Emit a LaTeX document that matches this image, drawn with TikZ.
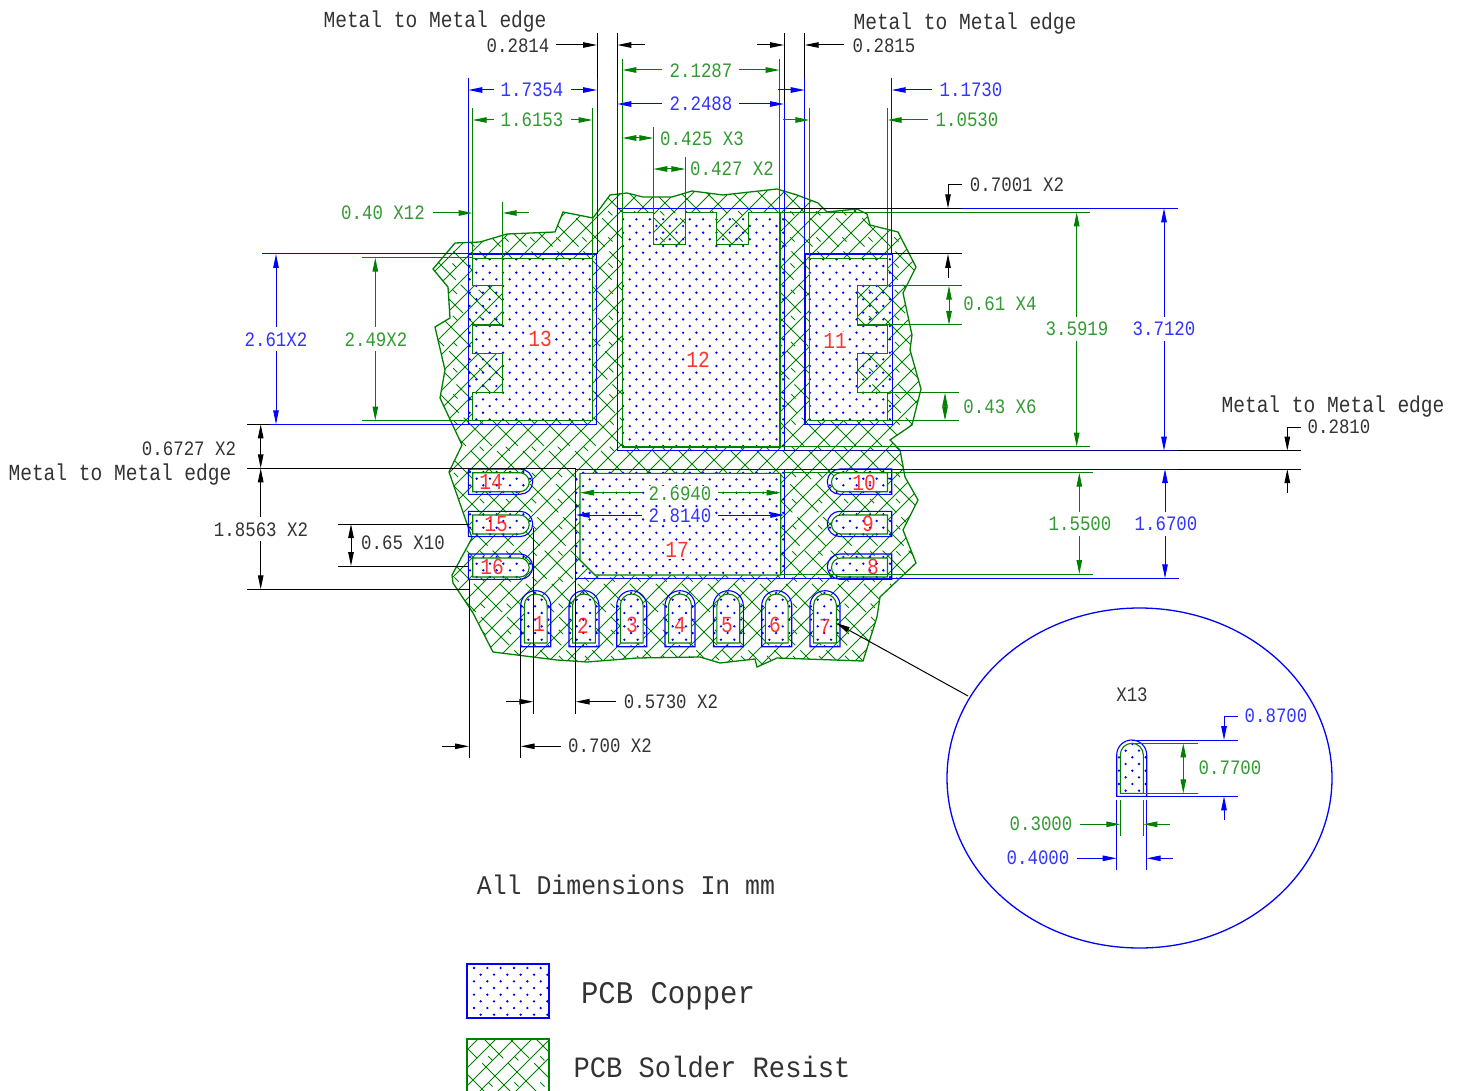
\documentclass[tikz,border=0pt]{standalone}
\usepackage{fontspec}
\usepackage{xcolor}
\usepackage{tikz}
\usetikzlibrary{arrows.meta}

\newfontfamily\dimfont[FakeStretch=.85]{Liberation Mono}
\newfontfamily\legendfont[FakeStretch=.92]{Liberation Mono}

\definecolor{copperblue}{RGB}{0,0,255}
\definecolor{resistgreen}{RGB}{0,128,0}
\definecolor{padred}{RGB}{255,0,0}

\tikzset{
  dimtext/.style={font=\dimfont\fontsize{20.5}{24}\selectfont,inner sep=0pt,text opacity=.8},
  edgetext/.style={font=\dimfont\fontsize{23}{26}\selectfont,inner sep=0pt,text opacity=.8},
  padtext/.style={font=\dimfont\fontsize{23}{26}\selectfont,inner sep=0pt,text=padred,text opacity=.8},
  bigpadtext/.style={padtext,fill=white,inner sep=1pt},
  bigtext/.style={font=\legendfont\fontsize{27}{30}\selectfont,inner sep=0pt,text opacity=.8},
  legendtext/.style={font=\legendfont\fontsize{29.5}{34}\selectfont,inner sep=0pt,text opacity=.8},
  legendwide/.style={font=\legendfont\fontsize{31.5}{34}\selectfont,inner sep=0pt,text opacity=.8},
  dim/.style={-{Triangle[length=14pt,width=5.5pt]},line width=1pt},
  dimboth/.style={{Triangle[length=14pt,width=5.5pt]}-{Triangle[length=14pt,width=5.5pt]},line width=1pt},
  ext/.style={line width=1pt},
  copperline/.style={draw=copperblue,line width=1.1pt},
  maskline/.style={draw=resistgreen,line width=1.1pt},
  hatchline/.style={resistgreen,line width=.9pt},
}

% pad with round top, round right end, round left end
\newcommand{\toppad}[4]{(#1,{#2+#4}) -- (#1,{#2+#3/2}) arc[start angle=180,end angle=360,radius={#3/2}] -- ({#1+#3},{#2+#4}) -- cycle}
\newcommand{\rightpad}[4]{(#1,#2) -- ({#1+#3-#4/2},#2) arc[start angle=-90,end angle=90,radius={#4/2}] -- (#1,{#2+#4}) -- cycle}
\newcommand{\leftpad}[4]{({#1+#3},#2) -- ({#1+#4/2},#2) arc[start angle=-90,end angle=-270,radius={#4/2}] -- ({#1+#3},{#2+#4}) -- cycle}

\newcommand{\copperdots}[4]{%
  \foreach \i in {0,...,#3} \foreach \j in {0,...,#4} {
    \fill[copperblue] ({#1+13.34*\i+6.67*mod(\j,2)},{#2+6.67*\j}) circle (1.3);
  }}
\newcommand{\resisthatch}[4]{%
  \foreach \k in {0,...,#3} {
    \draw[hatchline] ({#1+18*\k-(#4-#2)},#4) -- ({#1+18*\k},#2);
    \draw[hatchline,dash pattern=on 40pt off 7pt] ({#1+26*\k},#2) -- ({#1+26*\k+(#4-#2)},#4);
    \draw[hatchline,dash pattern=on 6pt off 31pt] ({#1+13+26*\k},#2) -- ({#1+13+26*\k+(#4-#2)},#4);
  }}

\begin{document}
\begin{tikzpicture}[x=1pt,y=-1pt]
\useasboundingbox (0,0) rectangle (1462,1091);

% solder resist
\begin{scope}
\clip (433,269) -- (455,243) -- (480,242) -- (507,234) -- (555,232) -- (563,212) -- (593,218) -- (610,195) -- (627,193) -- (643,197) -- (672,197) -- (692,191) -- (723,195) -- (777,189) -- (797,195) -- (818,203) -- (827,212) -- (857,209) -- (867,214) -- (870,225) -- (898,232) -- (916,267) -- (903,293) -- (912,335) -- (910,350) -- (921,389) -- (912,425) -- (890,440) -- (900,450) -- (905,477) -- (918,500) -- (903,530) -- (916,563) -- (880,597) -- (877,617) -- (863,661) -- (777,658) -- (757,667) -- (755,659) -- (720,663) -- (700,657) -- (637,658) -- (587,662) -- (557,660) -- (493,652) -- (473,613) -- (453,583) -- (452,575) -- (472,538) -- (449,472) -- (462,445) -- (440,398) -- (445,370) -- (435,327) -- (450,318) -- (448,287) -- cycle;
\resisthatch{-55}{185}{80}{670}
\end{scope}
\draw[maskline,line width=1.3pt] (433,269) -- (455,243) -- (480,242) -- (507,234) -- (555,232) -- (563,212) -- (593,218) -- (610,195) -- (627,193) -- (643,197) -- (672,197) -- (692,191) -- (723,195) -- (777,189) -- (797,195) -- (818,203) -- (827,212) -- (857,209) -- (867,214) -- (870,225) -- (898,232) -- (916,267) -- (903,293) -- (912,335) -- (910,350) -- (921,389) -- (912,425) -- (890,440) -- (900,450) -- (905,477) -- (918,500) -- (903,530) -- (916,563) -- (880,597) -- (877,617) -- (863,661) -- (777,658) -- (757,667) -- (755,659) -- (720,663) -- (700,657) -- (637,658) -- (587,662) -- (557,660) -- (493,652) -- (473,613) -- (453,583) -- (452,575) -- (472,538) -- (449,472) -- (462,445) -- (440,398) -- (445,370) -- (435,327) -- (450,318) -- (448,287) -- cycle;

% mask openings
\fill[white] (472.7,258.3) -- (592.3,258.3) -- (592.3,420.5) -- (472.7,420.5) -- (472.7,392.7) -- (502.7,392.7) -- (502.7,353.3) -- (472.7,353.3) -- (472.7,325) -- (502.7,325) -- (502.7,285.7) -- (472.7,285.7) -- cycle;
\fill[white] (622.3,212.3) -- (653.3,212.3) -- (653.3,244.3) -- (685.3,244.3) -- (685.3,212.3) -- (716.7,212.3) -- (716.7,244.3) -- (748.7,244.3) -- (748.7,212.3) -- (780,212.3) -- (780,447) -- (622.3,447) -- cycle;
\fill[white] (809.3,258.3) -- (887.3,258.3) -- (887.3,285.7) -- (857.7,285.7) -- (857.7,325) -- (887.3,325) -- (887.3,353.3) -- (857.7,353.3) -- (857.7,392.7) -- (887.3,392.7) -- (887.3,420.5) -- (809.3,420.5) -- cycle;
\fill[white] (580,473.3) -- (780.7,473.3) -- (780.7,575) -- (595,575) -- (580,560) -- cycle;
\foreach \py in {472.7,515,558} {
  \fill[white] \rightpad{472.7}{\py}{56.5}{19};
  \fill[white] \leftpad{831.5}{\py}{56}{19};
}
\foreach \px in {520.7,569,616.7,665,713.3,761.7,810} {
  \fill[white] \toppad{\px+3.6}{594}{22.8}{49};
}

% copper dots
\begin{scope}
\clip (468.3,254) rectangle (596.7,424.3) (617.3,208.3) rectangle (784.3,450.7) (805,254) rectangle (892.3,424.3) (575.7,469.3) rectangle (784.3,578.3);
\copperdots{463}{219.3}{33}{54}
\end{scope}
\foreach \py in {469,511.3,554} {
  \begin{scope}
  \clip \rightpad{468.3}{\py}{64.4}{25.3};
  \copperdots{470}{\py+3}{4}{3}
  \end{scope}
  \begin{scope}
  \clip \leftpad{827.3}{\py}{64.4}{25.3};
  \copperdots{830}{\py+3}{4}{3}
  \end{scope}
}
\foreach \px in {520.7,569,616.7,665,713.3,761.7,810} {
  \begin{scope}
  \clip \toppad{\px}{590.7}{30}{56};
  \copperdots{\px+1}{593}{2}{8}
  \end{scope}
}

% mask outlines
\draw[maskline] (472.7,258.3) -- (592.3,258.3) -- (592.3,420.5) -- (472.7,420.5) -- (472.7,392.7) -- (502.7,392.7) -- (502.7,353.3) -- (472.7,353.3) -- (472.7,325) -- (502.7,325) -- (502.7,285.7) -- (472.7,285.7) -- cycle;
\draw[maskline] (622.3,212.3) -- (653.3,212.3) -- (653.3,244.3) -- (685.3,244.3) -- (685.3,212.3) -- (716.7,212.3) -- (716.7,244.3) -- (748.7,244.3) -- (748.7,212.3) -- (780,212.3) -- (780,447) -- (622.3,447) -- cycle;
\draw[maskline] (809.3,258.3) -- (887.3,258.3) -- (887.3,285.7) -- (857.7,285.7) -- (857.7,325) -- (887.3,325) -- (887.3,353.3) -- (857.7,353.3) -- (857.7,392.7) -- (887.3,392.7) -- (887.3,420.5) -- (809.3,420.5) -- cycle;
\draw[maskline] (580,473.3) -- (780.7,473.3) -- (780.7,575) -- (595,575) -- (580,560) -- cycle;
\foreach \py in {472.7,515,558} {
  \draw[maskline] \rightpad{472.7}{\py}{56.5}{19};
  \draw[maskline] \leftpad{831.5}{\py}{56}{19};
}
\foreach \px in {520.7,569,616.7,665,713.3,761.7,810} {
  \draw[maskline] \toppad{\px+3.6}{594}{22.8}{49};
}

% copper outlines
\draw[copperline] (468.3,254) rectangle (596.7,424.3);
\draw[copperline] (617.3,208.3) rectangle (784.3,450.7);
\draw[copperline] (805,254) rectangle (892.3,424.3);
\draw[copperline] (575.7,469.3) rectangle (784.3,578.3);
\foreach \py in {469,511.3,554} {
  \draw[copperline] \rightpad{468.3}{\py}{64.4}{25.3};
  \draw[copperline] \leftpad{827.3}{\py}{64.4}{25.3};
}
\foreach \px in {520.7,569,616.7,665,713.3,761.7,810} {
  \draw[copperline] \toppad{\px}{590.7}{30}{56};
}

% pad numbers
\node[bigpadtext] (pad13) at (540,339) {13};
\node[bigpadtext] (pad12) at (698,360) {12};
\node[bigpadtext] (pad11) at (835,341) {11};
\node[bigpadtext] (pad17) at (677,550) {17};
\node[padtext] (pad14) at (491,482) {14};
\node[padtext] (pad15) at (496,524) {15};
\node[padtext] (pad16) at (492,567) {16};
\node[padtext] (pad10) at (864,483) {10};
\node[padtext] (pad9) at (868,524) {9};
\node[padtext] (pad8) at (873,567) {8};
\node[padtext] (pad1) at (539,624) {1};
\node[padtext] (pad2) at (583,626) {2};
\node[padtext] (pad3) at (632,625) {3};
\node[padtext] (pad4) at (680,625) {4};
\node[padtext] (pad5) at (727,625) {5};
\node[padtext] (pad6) at (775,625) {6};
\node[padtext] (pad7) at (825,627) {7};

% top dimensions
\draw[ext] (597,33) -- (597,78);
\draw[ext] (617.3,33) -- (617.3,92);
\draw[ext] (784,33) -- (784,103);
\draw[ext] (804.7,33) -- (804.7,78);
\draw[dim] (556,45) -- (597,45);
\draw[dim] (645,45) -- (617.3,45);
\draw[dim] (757,45) -- (784,45);
\draw[dim] (844,45) -- (804.7,45);
\draw[copperblue,ext] (468.3,78) -- (468.3,254);
\draw[copperblue,ext] (597,78) -- (597,254);
\draw[copperblue,ext] (617.3,92) -- (617.3,208.3);
\draw[copperblue,ext] (784,103) -- (784,208.3);
\draw[copperblue,ext] (804.7,78) -- (804.7,254);
\draw[copperblue,ext] (891.7,78) -- (891.7,254);
\draw[resistgreen,ext] (472.7,108) -- (472.7,258.3);
\draw[resistgreen,ext] (592.5,108) -- (592.5,258.3);
\draw[resistgreen,ext] (622.3,59) -- (622.3,212.3);
\draw[resistgreen,ext] (779.7,59) -- (779.7,212.3);
\draw[resistgreen,ext] (809.3,108) -- (809.3,258.3);
\draw[resistgreen,ext] (887.5,108) -- (887.5,258.3);
\draw[resistgreen,ext] (653.3,127) -- (653.3,212.3);
\draw[resistgreen,ext] (685.3,157) -- (685.3,212.3);
\draw[resistgreen,ext] (502.7,202) -- (502.7,285.7);
\draw[copperblue,dim] (494,90) -- (468.3,90);
\draw[copperblue,dim] (571,90) -- (597,90);
\draw[resistgreen,dim] (494,120) -- (472.7,120);
\draw[resistgreen,dim] (571,120) -- (592.5,120);
\draw[resistgreen,dim] (662,70) -- (622.3,70);
\draw[resistgreen,dim] (739,70) -- (779.7,70);
\draw[copperblue,dim] (662,104) -- (617.3,104);
\draw[copperblue,dim] (739,104) -- (784,104);
\draw[copperblue,dim] (778,90) -- (804.7,90);
\draw[resistgreen,dim] (783,120) -- (809.3,120);
\draw[copperblue,dim] (932,90) -- (891.7,90);
\draw[resistgreen,dim] (928,120) -- (887.5,120);
\draw[resistgreen,dimboth] (622.3,138) -- (653.3,138);
\draw[resistgreen,dimboth] (653.3,169) -- (685.3,169);
\draw[resistgreen,dim] (432.7,213) -- (472.7,213);
\draw[resistgreen,dim] (529,213) -- (502.7,213);

\node[edgetext] (edgetl) at (435,22) {Metal to Metal edge};
\node[edgetext] (edgetr) at (965,24) {Metal to Metal edge};
\node[dimtext] (t2814) at (518,46) {0.2814};
\node[dimtext] (t2815) at (884,46) {0.2815};
\node[dimtext,text=copperblue] (t17354) at (532,90) {1.7354};
\node[dimtext,text=resistgreen] (t16153) at (532,120) {1.6153};
\node[dimtext,text=resistgreen] (t21287) at (701,71) {2.1287};
\node[dimtext,text=copperblue] (t22488) at (701,104) {2.2488};
\node[dimtext,text=copperblue] (t11730) at (971,90) {1.1730};
\node[dimtext,text=resistgreen] (t10530) at (967,120) {1.0530};
\node[dimtext,text=resistgreen] (t425) at (702,139) {0.425 X3};
\node[dimtext,text=resistgreen] (t427) at (732,169) {0.427 X2};
\node[dimtext,text=resistgreen] (t40) at (383,213) {0.40 X12};

% right dimensions
\draw[copperblue,ext] (784,208.3) -- (1177.7,208.3);
\draw[ext] (788,208.3) -- (961.7,208.3);
\draw[resistgreen,ext] (780,212.3) -- (1090,212.3);
\draw[ext] (961.7,185) -- (948,185);
\draw[dim] (948,185) -- (948,208.3);
\draw[ext] (892.3,254) -- (962,254);
\draw[dim] (948,277.7) -- (948,254);
\draw[resistgreen,ext] (887.3,285.7) -- (962,285.7);
\draw[resistgreen,ext] (857.7,325) -- (962,325);
\draw[resistgreen,dimboth] (949,285.7) -- (949,325);
\draw[resistgreen,ext] (887.3,392.7) -- (959,392.7);
\draw[resistgreen,ext] (887.3,420.5) -- (959,420.5);
\draw[resistgreen,dimboth] (945,392.7) -- (945,420.5);
\draw[resistgreen,dim] (1076.7,317) -- (1076.7,212.3);
\draw[resistgreen,dim] (1076.7,341) -- (1076.7,446.7);
\draw[copperblue,dim] (1164,317) -- (1164,208.3);
\draw[copperblue,dim] (1164,341) -- (1164,450.7);
\draw[resistgreen,ext] (780,446.7) -- (1090,446.7);
\draw[ext] (784,450.7) -- (1301,450.7);
\draw[copperblue,ext,opacity=.6] (784,450.7) -- (1178,450.7);
\draw[ext] (784,469) -- (1301,469);
\draw[copperblue,ext,opacity=.6] (784,469) -- (1178,469);
\draw[resistgreen,ext] (784,472.7) -- (1092.7,472.7);
\draw[resistgreen,ext] (780.7,574) -- (1092.7,574);
\draw[copperblue,ext] (784,578.3) -- (1179,578.3);
\draw[resistgreen,dim] (1079.3,512) -- (1079.3,472.7);
\draw[resistgreen,dim] (1079.3,536) -- (1079.3,574);
\draw[copperblue,dim] (1165,512) -- (1165,469);
\draw[copperblue,dim] (1165,536) -- (1165,578.3);
\draw[ext] (1301,427.3) -- (1287.3,427.3);
\draw[dim] (1287.3,427.3) -- (1287.3,450.7);
\draw[dim] (1287.3,492.7) -- (1287.3,469);

\node[dimtext] (t7001) at (1017,185) {0.7001 X2};
\node[dimtext,text=resistgreen] (t61) at (1000,304) {0.61 X4};
\node[dimtext,text=resistgreen] (t43) at (1000,407) {0.43 X6};
\node[dimtext,text=resistgreen] (t35919) at (1077,329) {3.5919};
\node[dimtext,text=copperblue] (t37120) at (1164,329) {3.7120};
\node[dimtext,text=resistgreen] (t15500) at (1080,524) {1.5500};
\node[dimtext,text=copperblue] (t16700) at (1166,524) {1.6700};
\node[edgetext] (edger) at (1333,407) {Metal to Metal edge};
\node[dimtext] (t2810) at (1339,427) {0.2810};

% left dimensions
\draw[copperblue,ext] (262,254) -- (468.3,254);
\draw[copperblue,ext] (262,424.3) -- (468.3,424.3);
\draw[ext] (247,424.3) -- (270,424.3);
\draw[resistgreen,ext] (362.3,257.7) -- (472.7,257.7);
\draw[resistgreen,ext] (362.3,420.5) -- (472.7,420.5);
\draw[copperblue,dim] (276,327) -- (276,254);
\draw[copperblue,dim] (276,351) -- (276,424.3);
\draw[resistgreen,dim] (375.3,327) -- (375.3,257.7);
\draw[resistgreen,dim] (375.3,351) -- (375.3,420.5);
\draw[ext] (247,468.3) -- (575.7,468.3);
\draw[dimboth] (260.7,424.3) -- (260.7,468.3);
\draw[dim] (260.7,516.7) -- (260.7,468.3);
\draw[dim] (260.7,541) -- (260.7,589.3);
\draw[ext] (247,589.8) -- (469,589.8);
\draw[ext] (337.7,524) -- (468.3,524);
\draw[ext] (337.7,566) -- (468.3,566);
\draw[dimboth] (351,524) -- (351,566);

\node[dimtext,text=copperblue] (t261) at (276,339.5) {2.61X2};
\node[dimtext,text=resistgreen] (t249) at (376,339.5) {2.49X2};
\node[dimtext] (t6727) at (189,449) {0.6727 X2};
\node[edgetext] (edgel) at (120,475) {Metal to Metal edge};
\node[dimtext] (t18563) at (261,530) {1.8563 X2};
\node[dimtext] (t65) at (403,543) {0.65 X10};

% inside pad 17
\draw[resistgreen,dim] (641.7,492.7) -- (580,492.7);
\draw[resistgreen,dim] (718,492.7) -- (780.7,492.7);
\draw[copperblue,dim] (641.7,515) -- (575.7,515);
\draw[copperblue,dim] (718,515) -- (784.3,515);
\node[dimtext,text=resistgreen,fill=white,inner sep=1pt] (t26940) at (680,494) {2.6940};
\node[dimtext,text=copperblue,fill=white,inner sep=1pt] (t28140) at (680,516) {2.8140};

% bottom dimensions
\draw[ext] (469,579) -- (469,758);
\draw[ext] (520.7,646.7) -- (520.7,758);
\draw[ext] (533.3,528) -- (533.3,714);
\draw[ext] (575.7,578.3) -- (575.7,714);
\draw[dim] (506,701.7) -- (533.3,701.7);
\draw[dim] (616,701.7) -- (575.7,701.7);
\draw[dim] (441.7,746.3) -- (469,746.3);
\draw[dim] (561,746.3) -- (520.7,746.3);
\node[dimtext] (t5730) at (671,702) {0.5730 X2};
\node[dimtext] (t700) at (610,746) {0.700 X2};
\node[bigtext] (tall) at (626,885) {All Dimensions In mm};

% detail circle
\draw[copperblue,line width=1.3pt] (1139.5,778) ellipse [x radius=192.5,y radius=170];
\draw[dim] (968,696) -- (836,623);
\fill[white] \toppad{1116.7}{740}{30}{56.3};
\begin{scope}
\clip \toppad{1116.7}{740}{30}{56.3};
\copperdots{1119}{744}{2}{8}
\end{scope}
\draw[maskline] \toppad{1120.3}{743.3}{23}{50};
\draw[copperline] \toppad{1116.7}{740}{30}{56.3};
\draw[copperblue,ext] (1132,740) -- (1237.7,740);
\draw[copperblue,ext] (1116.7,796.3) -- (1237.7,796.3);
\draw[resistgreen,ext] (1132,743.3) -- (1198,743.3);
\draw[resistgreen,ext] (1143,793.3) -- (1198,793.3);
\draw[resistgreen,dimboth] (1183.3,743.3) -- (1183.3,793.3);
\draw[copperblue,ext] (1237.7,716) -- (1224,716);
\draw[copperblue,dim] (1224,716) -- (1224,740);
\draw[copperblue,dim] (1224,820) -- (1224,796.3);
\draw[copperblue,ext] (1116.7,800) -- (1116.7,870);
\draw[copperblue,ext] (1146.7,800) -- (1146.7,870);
\draw[resistgreen,ext] (1120.3,800) -- (1120.3,836);
\draw[resistgreen,ext] (1143.3,800) -- (1143.3,836);
\draw[resistgreen,dim] (1080,824.3) -- (1120.3,824.3);
\draw[resistgreen,dim] (1170,824.3) -- (1143.3,824.3);
\draw[copperblue,dim] (1076.7,858.3) -- (1116.7,858.3);
\draw[copperblue,dim] (1173,858.3) -- (1146.7,858.3);
\node[dimtext] (tx13) at (1132,695) {X13};
\node[dimtext,text=copperblue] (t8700) at (1276,716) {0.8700};
\node[dimtext,text=resistgreen] (t7700) at (1230,768) {0.7700};
\node[dimtext,text=resistgreen] (t3000) at (1041,824) {0.3000};
\node[dimtext,text=copperblue] (t4000) at (1038,858) {0.4000};

% legend
\begin{scope}
\clip (467,964) rectangle (549,1018);
\copperdots{474}{968}{5}{7}
\end{scope}
\draw[copperblue,line width=1.3pt] (467,964) rectangle (549,1018);
\begin{scope}
\clip (467,1039) rectangle (549,1095);
\resisthatch{397}{1030}{10}{1100}
\end{scope}
\draw[resistgreen,line width=1.3pt] (467,1039) rectangle (549,1095);
\node[legendwide] (tcopper) at (668,996) {PCB Copper};
\node[legendtext] (tresist) at (712,1067) {PCB Solder Resist};
\end{tikzpicture}
\end{document}
